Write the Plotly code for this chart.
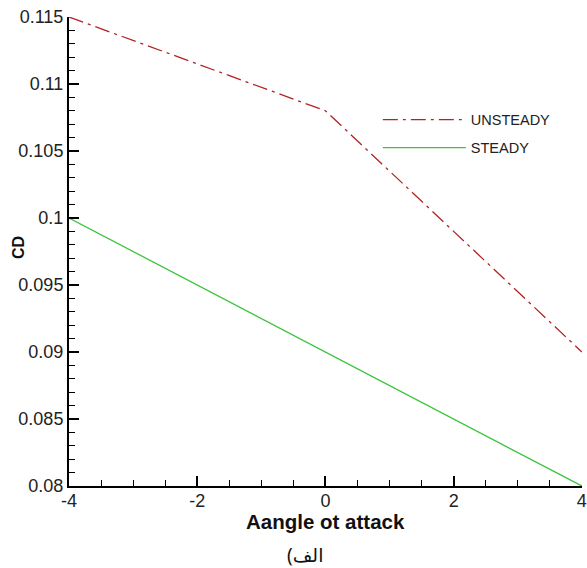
import plotly.graph_objects as go

angle = [-4, -2, 0, 2, 4]
cd_unsteady = [0.115, 0.1115, 0.108, 0.099, 0.090]
cd_steady = [0.100, 0.095, 0.090, 0.085, 0.080]

x_tickvals = [-4, -2, 0, 2, 4]
x_ticktext = ["-4", "-2", "0", "2", "4"]
y_tickvals = [0.08, 0.085, 0.09, 0.095, 0.1, 0.105, 0.11, 0.115]
y_ticktext = ["0.08", "0.085", "0.09", "0.095", "0.1", "0.105", "0.11", "0.115"]

fig = go.Figure()
fig.add_trace(go.Scatter(x=angle, y=cd_unsteady, mode="lines", name="UNSTEADY", legendgroup="u",
                         line=dict(color="#B22222", width=1.3, dash="15px,5px,3px,5px")))
fig.add_trace(go.Scatter(x=angle, y=cd_steady, mode="lines", name="STEADY", legendgroup="s",
                         line=dict(color="#3CC43C", width=1.3)))

axis_font = dict(family="Liberation Sans, Arial", size=18, color="#222")
fig.update_layout(
    width=587, height=568,
    margin=dict(l=69, r=5, t=17, b=82, autoexpand=False),
    plot_bgcolor="white", paper_bgcolor="white",
    font=axis_font,
    showlegend=True,
    legend=dict(x=0.602, y=0.815, xanchor="left", yanchor="top",
                bgcolor="rgba(0,0,0,0)", font=dict(family="Liberation Sans, Arial", size=14.5, color="#222"),
                itemwidth=83, traceorder="grouped", tracegroupgap=6),
    xaxis=dict(range=[-4, 4.002], tickmode="array", tickvals=x_tickvals, ticktext=x_ticktext,
               automargin=False, ticklabeloverflow="allow", ticklabelstandoff=-3,
               showgrid=False, zeroline=False, showline=True, linecolor="black", linewidth=2,
               ticks="inside", ticklen=10, tickwidth=2, tickcolor="black",
               minor=dict(ticks="inside", ticklen=6, tickwidth=1, tickcolor="black",
                          tickmode="linear", tick0=-4, dtick=0.5, showgrid=False),
               tickfont=axis_font),
    yaxis=dict(range=[0.08, 0.115], tickmode="array", tickvals=y_tickvals, ticktext=y_ticktext,
               automargin=False, ticklabelstandoff=0,
               showgrid=False, zeroline=False, showline=True, linecolor="black", linewidth=2,
               ticks="inside", ticklen=10, tickwidth=2, tickcolor="black",
               minor=dict(ticks="inside", ticklen=6, tickwidth=1, tickcolor="black",
                          tickmode="linear", tick0=0.08, dtick=0.001, showgrid=False),
               tickfont=axis_font),
)
fig.add_annotation(text="<b>Aangle ot attack</b>", xref="paper", yref="paper", x=0.5, y=-0.075,
                   showarrow=False, xanchor="center", yanchor="middle",
                   font=dict(family="Liberation Sans, Arial", size=20.5, color="#111"))
fig.add_annotation(text="<b>CD</b>", xref="paper", yref="paper", x=-0.0975, y=0.5096,
                   textangle=-90, showarrow=False, xanchor="center", yanchor="middle",
                   font=dict(family="Liberation Sans, Arial", size=16, color="#111"))
fig.add_annotation(text="(الف", xref="paper", yref="paper", x=0.46, y=-0.148,
                   showarrow=False, yanchor="middle", xanchor="center",
                   font=dict(family="Noto Sans, DejaVu Sans", size=19, color="#111"))

fig.write_html("out.html", config={"displayModeBar": False},
               post_script="document.body.style.margin='0px';")
